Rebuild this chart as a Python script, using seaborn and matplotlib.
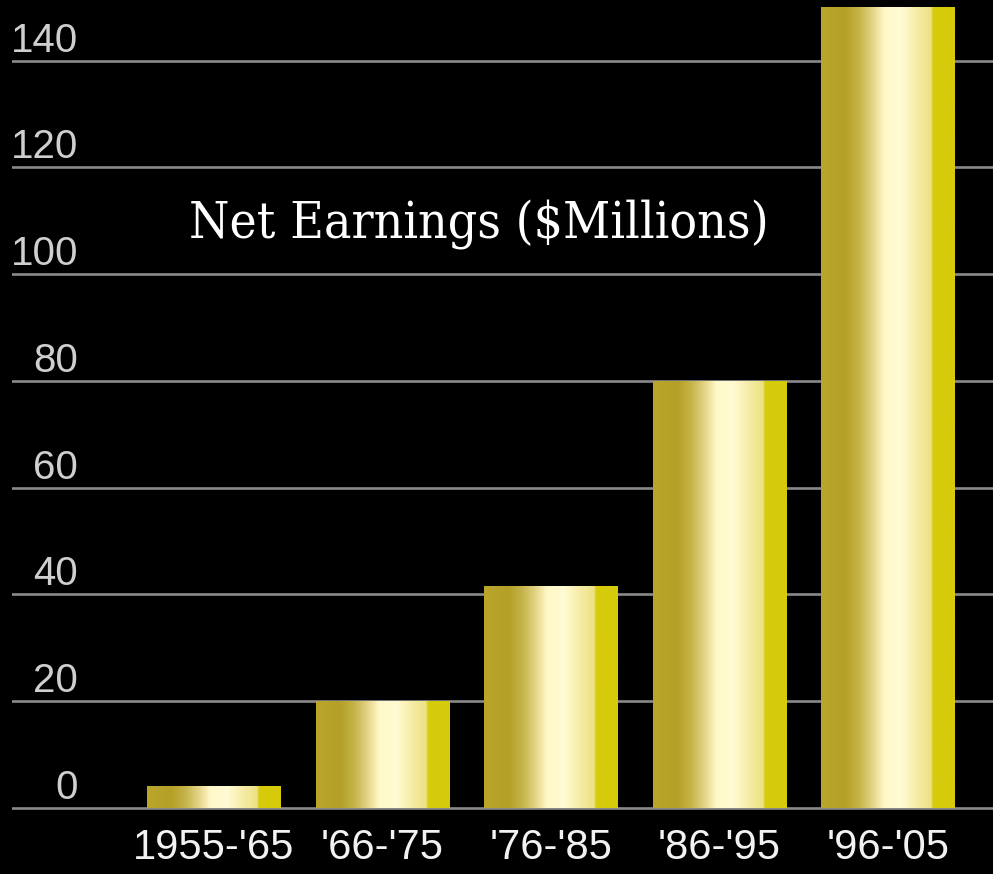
import numpy as np
import pandas as pd
import matplotlib
matplotlib.use("Agg")
import matplotlib.pyplot as plt
import seaborn as sns
from matplotlib.colors import LinearSegmentedColormap

# Data
periods = ["1955-'65", "'66-'75", "'76-'85", "'86-'95", "'96-'05"]
earnings = [4, 20, 41.5, 80, 150]
y_ticks = [0, 20, 40, 60, 80, 100, 120, 140]
y_tick_labels = ["0", "20", "40", "60", "80", "100", "120", "140"]
title_text = "Net Earnings ($Millions)"

sns.set_theme(style="dark")
plt.rcParams["font.family"] = ["Liberation Sans", "DejaVu Sans"]

W, H, DPI = 993, 874, 100
fig = plt.figure(figsize=(W / DPI, H / DPI), dpi=DPI, facecolor="black")
ax_left, ax_bottom_px = 12, 820
ax = fig.add_axes([ax_left / W, (H - ax_bottom_px) / H, 1 - ax_left / W, ax_bottom_px / H])
ax.set_facecolor("black")

df = pd.DataFrame({"period": periods, "earnings": earnings})
sns.barplot(data=df, x="period", y="earnings", order=periods, color="#d6cb0a",
            saturation=1, width=0.79, ax=ax, zorder=3)

# Metallic gold gradient across each bar
stops = [
    (0.00, (186, 166, 42)),
    (0.18, (180, 160, 40)),
    (0.28, (196, 178, 70)),
    (0.38, (225, 210, 130)),
    (0.47, (255, 248, 200)),
    (0.60, (255, 251, 212)),
    (0.72, (246, 236, 165)),
    (0.825, (236, 225, 130)),
    (0.835, (214, 203, 12)),
    (1.00, (214, 203, 12)),
]
gold = LinearSegmentedColormap.from_list(
    "gold", [(p, tuple(c / 255 for c in rgb)) for p, rgb in stops], N=512)
grad = np.linspace(0, 1, 512).reshape(1, -1)
for patch in ax.patches:
    x0, y0 = patch.get_x(), patch.get_y()
    w, h = patch.get_width(), patch.get_height()
    im = ax.imshow(grad, extent=[x0, x0 + w, y0, y0 + h], aspect="auto",
                   cmap=gold, origin="lower", zorder=4, interpolation="bicubic")
    im.set_clip_path(patch)
    patch.set_edgecolor("none")

# Scales
px_per_unit = 5.336
zero_px = 807.8
ax.set_ylim(-(ax_bottom_px - zero_px) / px_per_unit, zero_px / px_per_unit)
spacing = 168.6
ax.set_xlim(-(213.5 - ax_left) / spacing, 4 + (W - 888) / spacing)

# Grid
ax.set_yticks(y_ticks)
ax.set_yticklabels([])
ax.yaxis.grid(True, color="#8a8a8a", linewidth=1.9, zorder=1)
ax.xaxis.grid(False)
ax.set_axisbelow(True)
for s in ax.spines.values():
    s.set_visible(False)
ax.tick_params(axis="both", length=0)
ax.tick_params(axis="x", colors="#f2f2f2", labelsize=30, pad=6)
ax.set_xlabel("")
ax.set_ylabel("")

# Y labels sit just above their grid lines, inside the plot
for v, lab in zip(y_ticks, y_tick_labels):
    ax.annotate(lab, xy=(0, v), xycoords=("axes fraction", "data"),
                xytext=(66, 9), textcoords="offset pixels",
                ha="right", va="baseline", color="#cfcfcf", fontsize=29,
                zorder=2)

fig.text(479 / W, 1 - 238 / H, title_text, ha="center", va="baseline",
         color="white", fontsize=37, fontstretch="condensed",
         family=["DejaVu Serif"])

fig.savefig("out.png", dpi=DPI, facecolor="black")
